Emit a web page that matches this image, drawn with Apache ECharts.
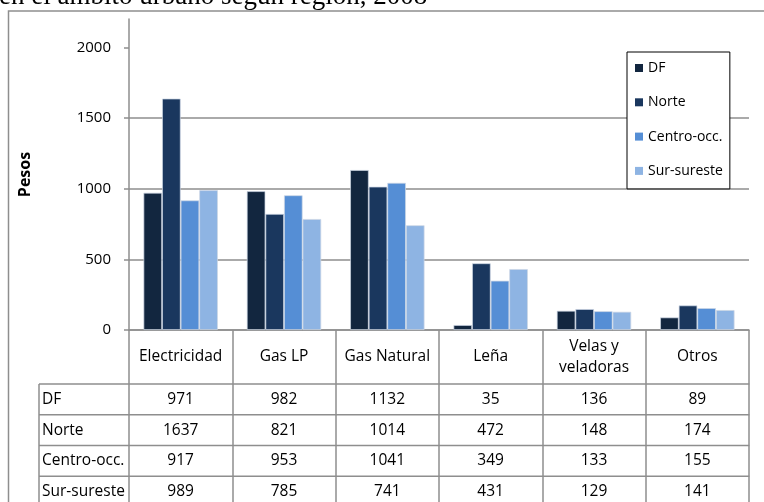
<!DOCTYPE html>
<html>
<head>
<meta charset="utf-8">
<script src="https://cdn.jsdelivr.net/npm/echarts@6/dist/echarts.min.js"></script>
<style>
html, body { margin: 0; padding: 0; background: #fff; }
#root { width: 764px; height: 502px; }
</style>
</head>
<body>
<div id="root"></div>
<script>
// 数据
var categories = ['Electricidad', 'Gas LP', 'Gas Natural', 'Leña', 'Velas y\nveladoras', 'Otros'];
var regions = ['DF', 'Norte', 'Centro-occ.', 'Sur-sureste'];
var dfData = [971, 982, 1132, 35, 136, 89];
var norteData = [1637, 821, 1014, 472, 148, 174];
var centroData = [917, 953, 1041, 349, 133, 155];
var surData = [989, 785, 741, 431, 129, 141];
var yTicks = [0, 500, 1000, 1500, 2000];
var titleText = 'en el ámbito urbano según región, 2008';

var seriesData = [dfData, norteData, centroData, surData];
var colors = ['#12263f', '#1a375e', '#558ed5', '#8eb4e3'];
var font = '"Open Sans", sans-serif';
var grey = '#8e8e8e';

var option = {
  animation: false,
  textStyle: { fontFamily: font },
  grid: { left: 129, right: 15, top: 19, bottom: 172 },
  legend: {
    data: regions,
    orient: 'vertical',
    left: 627,
    top: 52,
    padding: [9, 7, 11, 8],
    itemGap: 20.3,
    itemWidth: 8,
    itemHeight: 8,
    icon: 'rect',
    borderColor: '#000',
    borderWidth: 1,
    backgroundColor: '#fff',
    itemStyle: { borderWidth: 0 },
    textStyle: { fontFamily: font, fontSize: 14, color: '#000', lineHeight: 14, padding: [0, 0, 0, 0] }
  },
  xAxis: {
    type: 'category',
    data: categories,
    axisLine: { lineStyle: { color: grey, width: 1.5 } },
    axisTick: { show: true, length: 190, lineStyle: { color: grey, width: 1.5 } },
    axisLabel: { fontSize: 15.5, color: '#000', margin: 27, verticalAlign: 'middle', lineHeight: 21, interval: 0 }
  },
  yAxis: {
    type: 'value',
    min: 0,
    max: 2200,
    interval: 500,
    name: 'Pesos',
    nameLocation: 'middle',
    nameGap: 96,
    nameTextStyle: { fontSize: 16, fontWeight: 'bold', color: '#000', fontFamily: font },
    axisLine: { show: true, lineStyle: { color: grey, width: 1.5 } },
    axisTick: { show: true, length: 5, customValues: yTicks, lineStyle: { color: grey, width: 1.5 } },
    axisLabel: {
      fontSize: 15, color: '#000', margin: 18, customValues: yTicks,
      formatter: function(value) { return String(value); }
    },
    splitLine: { show: true, showMaxLine: false, lineStyle: { color: grey, width: 1.5 } }
  },
  series: regions.map(function(name, i) {
    return {
      name: name,
      type: 'bar',
      data: seriesData[i],
      barGap: '0%',
      barCategoryGap: '28%',
      itemStyle: { color: colors[i], borderColor: 'rgba(205,214,228,0.9)', borderWidth: 0.8 }
    };
  })
};

var myChart = echarts.init(document.getElementById('root'));
myChart.setOption(option);

// 数据表 + 外框 + 标题
var graphics = [];
graphics.push({
  type: 'rect', z: 0, silent: true,
  shape: { x: 8.5, y: 11, width: 820, height: 600 },
  style: { fill: null, stroke: grey, lineWidth: 1.5 }
});
graphics.push({
  type: 'text', z: 10, silent: true, x: -1, y: 10,
  style: { text: titleText, font: '27px "Liberation Serif", serif', fill: '#000', verticalAlign: 'bottom' }
});
var rowTop = 384, rowH = 30.75, tableLeft = 39;
var plotRight = myChart.convertToPixel({ xAxisIndex: 0 }, categories[categories.length - 1]) + 52;
for (var r = 0; r <= regions.length; r++) {
  var y = rowTop + r * rowH;
  graphics.push({
    type: 'line', z: 5, silent: true,
    shape: { x1: tableLeft, y1: y, x2: plotRight, y2: y },
    style: { stroke: grey, lineWidth: 1.5 }
  });
}
graphics.push({
  type: 'line', z: 5, silent: true,
  shape: { x1: tableLeft, y1: rowTop, x2: tableLeft, y2: 520 },
  style: { stroke: grey, lineWidth: 1.5 }
});
regions.forEach(function(name, r) {
  var cy = rowTop + r * rowH + rowH / 2;
  graphics.push({
    type: 'text', z: 6, silent: true, x: tableLeft + 3, y: cy,
    style: { text: name, font: '15.5px ' + font, fill: '#000', verticalAlign: 'middle', align: 'left' }
  });
  seriesData[r].forEach(function(v, c) {
    var cx = myChart.convertToPixel({ xAxisIndex: 0 }, categories[c]);
    graphics.push({
      type: 'text', z: 6, silent: true, x: cx, y: cy,
      style: { text: String(v), font: '15.5px ' + font, fill: '#000', verticalAlign: 'middle', align: 'center' }
    });
  });
});
myChart.setOption({ graphic: graphics });
</script>
</body>
</html>
